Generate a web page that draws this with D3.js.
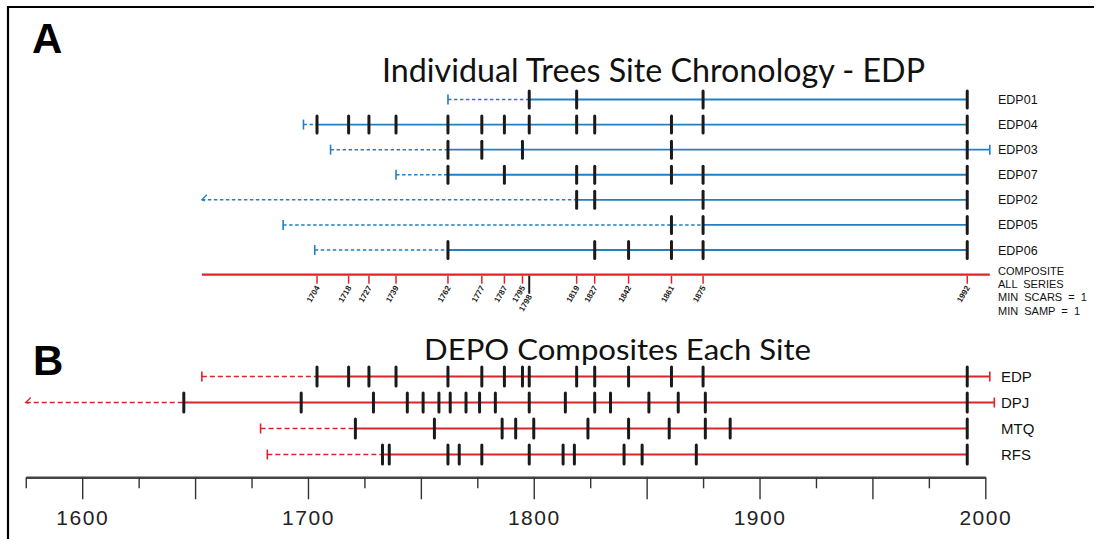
<!DOCTYPE html>
<html lang="en">
<head>
  <meta charset="UTF-8">
  <title>Individual Trees Site Chronology - EDP</title>
  <script src="https://d3js.org/d3.v7.min.js"></script>
  <style>
    body { margin: 0; background: #fff; }
    svg { display: block; }
    .lab { font-family: "Liberation Sans", Arial, sans-serif; fill: #111; }
    .title { font-family: "Comic Sans MS", "Lato", "Open Sans", sans-serif; fill: #111; }
  </style>
</head>
<body>
  <svg></svg>

  <script>
    // Panel A - individual trees (EDP site)
    const treeNames = ["EDP01", "EDP04", "EDP03", "EDP07", "EDP02", "EDP05", "EDP06"];
    const treeInner = [1762, 1698, 1710, 1739, 1653, 1689, 1703];
    const treeInnerArrow = [false, false, false, false, true, false, false];
    const treeRecStart = [1798, 1704, 1762, 1762, 1819, 1875, 1762];
    const treeOuter = [1992, 1992, 2002, 1992, 1992, 1992, 1992];
    const treeBark = [false, false, true, false, false, false, false];
    const treeScars = [
      [1798, 1819, 1875, 1992],
      [1704, 1718, 1727, 1739, 1762, 1777, 1787, 1798, 1819, 1827, 1861, 1875, 1992],
      [1762, 1777, 1795, 1861, 1992],
      [1762, 1787, 1819, 1827, 1861, 1875, 1992],
      [1819, 1827, 1875, 1992],
      [1861, 1875, 1992],
      [1762, 1827, 1842, 1861, 1875, 1992]
    ];

    // composite of all EDP series
    const compRange = [1653, 2002];
    const compYears = [1704, 1718, 1727, 1739, 1762, 1777, 1787, 1795, 1798, 1819, 1827, 1842, 1861, 1875, 1992];
    const compText = ["COMPOSITE", "ALL  SERIES", "MIN  SCARS  =  1", "MIN  SAMP  =  1"];

    // Panel B - site composites
    const siteNames = ["EDP", "DPJ", "MTQ", "RFS"];
    const siteInner = [1653, 1575, 1679, 1682];
    const siteInnerArrow = [false, true, false, false];
    const siteRecStart = [1704, 1645, 1721, 1733];
    const siteOuter = [2002, 2004, 1992, 1992];
    const siteBark = [true, true, false, false];
    const siteScars = [
      [1704, 1718, 1727, 1739, 1762, 1777, 1787, 1795, 1798, 1819, 1827, 1842, 1861, 1875, 1992],
      [1645, 1697, 1729, 1744, 1751, 1758, 1763, 1770, 1776, 1783, 1798, 1814, 1827, 1834, 1851, 1864, 1876, 1992],
      [1721, 1756, 1786, 1792, 1800, 1824, 1842, 1860, 1876, 1887, 1992],
      [1733, 1736, 1762, 1767, 1777, 1798, 1813, 1818, 1840, 1848, 1872, 1992]
    ];

    const axisTicks = d3.range(1575, 2001, 25);

    const W = 1101, H = 539;
    const blue = "#2180c3", red = "#d8262b", ink = "#1a1a1a";

    const svg = d3.select("svg").attr("width", W).attr("height", H);

    const x = d3.scaleLinear().domain([1600, 2000]).range([82.2, 985.3]);
    const yA = d3.scalePoint().domain(treeNames).range([99.5, 250]);
    const yB = d3.scalePoint().domain(siteNames).range([376.5, 454.5]);

    // frame
    svg.append("path")
      .attr("d", `M8,${H} V7 H1094`)
      .attr("fill", "none").attr("stroke", "#000").attr("stroke-width", 2.2);

    // panel letters and titles
    svg.append("text").attr("x", 32).attr("y", 53)
      .style("font", "bold 42px 'Liberation Sans', Arial, sans-serif").text("A");
    svg.append("text").attr("x", 33).attr("y", 375)
      .style("font", "bold 42px 'Liberation Sans', Arial, sans-serif").text("B");

    svg.append("text").attr("class", "title")
      .attr("x", 382).attr("y", 82)
      .attr("textLength", 543).attr("lengthAdjust", "spacingAndGlyphs")
      .style("font-size", "33px")
      .text("Individual Trees Site Chronology - EDP");
    svg.append("text").attr("class", "title")
      .attr("x", 424).attr("y", 360)
      .attr("textLength", 387).attr("lengthAdjust", "spacingAndGlyphs")
      .style("font-size", "29px")
      .text("DEPO Composites Each Site");

    // draws one series row
    function drawRow(g, o) {
      const y = o.y;
      if (o.inner < o.rec) {
        g.append("line")
          .attr("x1", x(o.inner)).attr("x2", x(o.rec)).attr("y1", y).attr("y2", y)
          .attr("stroke", o.color).attr("stroke-width", o.dashW)
          .attr("stroke-dasharray", o.dash);
      }
      g.append("line")
        .attr("x1", x(o.rec)).attr("x2", x(o.outer)).attr("y1", y).attr("y2", y)
        .attr("stroke", o.color).attr("stroke-width", o.lineW);
      // inner ring / pith marker
      if (o.arrow) {
        const ax = x(o.inner);
        g.append("path")
          .attr("d", `M${ax + 5},${y - 5} L${ax},${y} L${ax + 3},${y + 1}`)
          .attr("fill", "none").attr("stroke", o.color).attr("stroke-width", 1.3);
      } else if (o.inner < o.rec) {
        g.append("line")
          .attr("x1", x(o.inner)).attr("x2", x(o.inner))
          .attr("y1", y - 5).attr("y2", y + 5)
          .attr("stroke", o.color).attr("stroke-width", 1.6);
      }
      if (o.bark) {
        g.append("line")
          .attr("x1", x(o.outer)).attr("x2", x(o.outer))
          .attr("y1", y - 5).attr("y2", y + 5)
          .attr("stroke", o.color).attr("stroke-width", 1.6);
      }
      g.selectAll("line.scar").data(o.scars).join("line")
        .attr("class", "scar")
        .attr("x1", d => x(d)).attr("x2", d => x(d))
        .attr("y1", y - o.barH).attr("y2", y + o.barH)
        .attr("stroke", ink).attr("stroke-width", 3)
        .attr("stroke-linecap", "round");
      g.append("text").attr("class", "lab")
        .attr("x", o.labX).attr("y", y).attr("dy", "0.36em")
        .style("font-size", o.fs + "px")
        .text(o.name);
    }

    const gA = svg.append("g");
    treeNames.forEach((n, i) => {
      drawRow(gA.append("g"), {
        name: n, y: yA(n), inner: treeInner[i], rec: treeRecStart[i], outer: treeOuter[i],
        arrow: treeInnerArrow[i], bark: treeBark[i], scars: treeScars[i],
        color: blue, lineW: 1.8, dashW: 1.5, dash: "3.5,2.5", barH: 8.5,
        labX: 998, fs: 12.5
      });
    });

    // composite line
    const yC = 274.7;
    svg.append("line")
      .attr("x1", x(compRange[0])).attr("x2", x(compRange[1]))
      .attr("y1", yC).attr("y2", yC)
      .attr("stroke", red).attr("stroke-width", 2.2);

    const comp = svg.append("g").selectAll("g").data(compYears).join("g");
    comp.append("line")
      .attr("x1", d => x(d)).attr("x2", d => x(d))
      .attr("y1", yC + 1).attr("y2", d => d === 1798 ? yC + 19 : yC + 9)
      .attr("stroke", d => d === 1798 ? ink : red)
      .attr("stroke-width", d => d === 1798 ? 2 : 1.5);
    comp.append("text")
      .attr("transform", d => `translate(${x(d) + 3},${d === 1798 ? yC + 22 : yC + 13}) rotate(-60)`)
      .attr("text-anchor", "end")
      .style("font", "bold 8px 'Liberation Sans', Arial, sans-serif")
      .attr("fill", ink)
      .text(d => d);

    svg.append("g").selectAll("text").data(compText).join("text")
      .attr("class", "lab")
      .attr("x", 998).attr("y", (d, i) => 275 + i * 13.2)
      .attr("xml:space", "preserve").style("white-space", "pre")
      .style("font-size", "11px")
      .text(d => d);

    const gB = svg.append("g");
    siteNames.forEach((n, i) => {
      drawRow(gB.append("g"), {
        name: n, y: yB(n), inner: siteInner[i], rec: siteRecStart[i], outer: siteOuter[i],
        arrow: siteInnerArrow[i], bark: siteBark[i], scars: siteScars[i],
        color: red, lineW: 1.8, dashW: 1.4, dash: "5,3", barH: 9.5,
        labX: 1001, fs: 15
      });
    });

    // bottom time axis
    const axisScale = x.copy().domain([1575, 2000]).range([x(1575), x(2000)]);
    const axis = d3.axisBottom(axisScale)
      .tickValues(axisTicks)
      .tickSize(22).tickSizeOuter(0).tickPadding(11)
      .tickFormat(d => d % 100 === 0 ? d : "");
    const gx = svg.append("g").attr("transform", "translate(0,477.3)").call(axis);
    gx.select(".domain").attr("stroke", "#444").attr("stroke-width", 2.4);
    gx.selectAll(".tick line")
      .attr("stroke", "#333").attr("stroke-width", 1.4)
      .attr("y2", d => d % 50 === 0 ? 22 : 11);
    gx.selectAll(".tick text")
      .attr("fill", "#222")
      .style("font-family", "'Liberation Sans', Arial, sans-serif")
      .style("font-size", "21px")
      .style("letter-spacing", "1.5px");
  </script>
</body>
</html>
